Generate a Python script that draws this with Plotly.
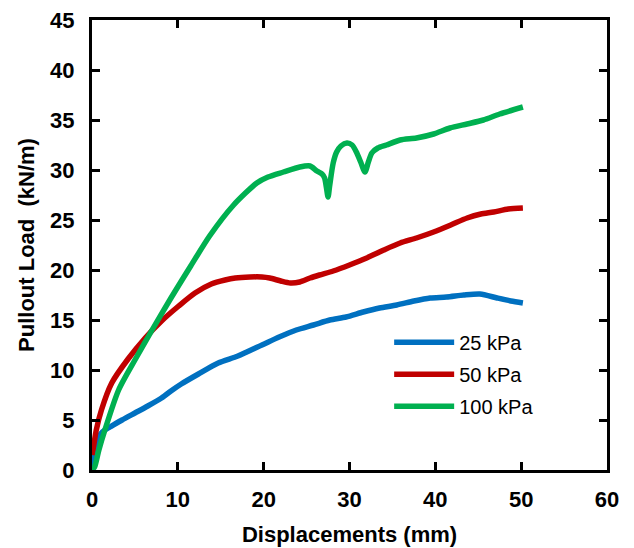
import plotly.graph_objects as go

# Data
x_25 = [0, 0.2, 0.5, 1.0, 1.5, 2.1, 3.5, 5.0, 6.5, 8.1, 9.2, 10.4, 12.4, 14.7, 17.0, 19.8,
        21.8, 23.8, 25.8, 27.7, 29.6, 31.6, 33.5, 35.5, 37.5, 39.4, 41.3, 43.3, 45.2, 47.2, 48.8, 50.2]
y_25 = [0, 1.5, 2.8, 3.6, 4.0, 4.3, 5.0, 5.7, 6.4, 7.2, 7.9, 8.6, 9.6, 10.7, 11.4, 12.5,
        13.3, 14.0, 14.5, 15.0, 15.3, 15.8, 16.2, 16.5, 16.9, 17.2, 17.3, 17.5, 17.6, 17.2, 16.9, 16.7]

x_50 = [0, 0.15, 0.5, 1.1, 2.3, 4.2, 6.2, 8.1, 10.1, 12.0, 13.9, 15.5, 16.7, 18.4, 19.8, 20.7,
        22.0, 23.1, 24.2, 25.4, 26.5, 28.1, 30.0, 32.0, 34.0, 35.9, 37.8, 39.8, 41.8, 43.7, 45.3,
        46.8, 48.5, 50.2]
y_50 = [1.5, 2.2, 4.0, 6.0, 8.7, 11.1, 13.2, 14.9, 16.4, 17.7, 18.6, 19.0, 19.2, 19.3, 19.3, 19.2,
        18.9, 18.7, 18.8, 19.2, 19.5, 19.9, 20.5, 21.2, 22.0, 22.7, 23.2, 23.8, 24.5, 25.2, 25.6,
        25.8, 26.1, 26.2]

x_100 = [0, 0.3, 0.8, 1.5, 3.1, 5.0, 7.0, 9.2, 11.5, 13.7, 16.5, 19.2, 20.5, 22.3, 24.2, 25.4,
         26.2, 26.8, 27.1, 27.3, 27.5, 27.7, 28.1, 28.5, 29.0, 29.7, 30.3, 30.8, 31.3, 31.8, 32.2,
         32.6, 33.3, 34.3, 35.9, 37.8, 39.8, 41.7, 43.7, 45.6, 47.5, 50.2]
y_100 = [0, 0.3, 2.0, 4.0, 8.0, 11.0, 14.0, 17.2, 20.4, 23.4, 26.5, 28.7, 29.3, 29.8, 30.3, 30.4,
         29.9, 29.6, 29.2, 28.3, 27.3, 28.5, 30.7, 31.8, 32.4, 32.7, 32.5, 31.8, 30.8, 29.8, 30.8,
         31.7, 32.2, 32.5, 33.0, 33.2, 33.6, 34.2, 34.6, 35.0, 35.6, 36.3]

names = ["25 kPa", "50 kPa", "100 kPa"]
colors = ["#0070C0", "#C00000", "#00B050"]
series = [(x_25, y_25), (x_50, y_50), (x_100, y_100)]

x_ticks = [0, 10, 20, 30, 40, 50, 60]
y_ticks = [0, 5, 10, 15, 20, 25, 30, 35, 40, 45]

FONT = "Liberation Sans, Arial, sans-serif"

fig = go.Figure()
for (xs, ys), n, c in zip(series, names, colors):
    fig.add_trace(go.Scatter(
        x=xs, y=ys, mode="lines", name=n, legendgroup=n,
        line=dict(color=c, width=5.5, shape="spline", smoothing=0.7),
    ))

axis_common = dict(
    showgrid=False, zeroline=False, showline=True, linecolor="black", linewidth=3,
    mirror="ticks", ticks="inside", ticklen=8, tickwidth=2.5, tickcolor="black",
    tickfont=dict(family=FONT, size=22, color="black", weight="bold"),
    automargin=False,
)

fig.update_layout(
    width=634, height=548,
    margin=dict(l=92, r=27, t=20, b=78),
    paper_bgcolor="white", plot_bgcolor="white",
    font=dict(family=FONT, color="black"),
    xaxis=dict(range=[0, 60], tickvals=x_ticks, ticklabelstandoff=8,
               title=dict(text="Displacements (mm)", standoff=16,
                          font=dict(family=FONT, size=22, color="black", weight="bold")),
               **axis_common),
    yaxis=dict(range=[0, 45], tickvals=y_ticks, ticklabelstandoff=10,
               title=dict(text="Pullout Load  (kN/m)", standoff=10,
                          font=dict(family=FONT, size=22, color="black", weight="bold")),
               **axis_common),
    legend=dict(x=0.577, y=0.327, xanchor="left", yanchor="top",
                bgcolor="rgba(0,0,0,0)", font=dict(family=FONT, size=20, color="black"),
                itemwidth=60, tracegroupgap=3),
    showlegend=True,
)

fig.write_html("out.html")
